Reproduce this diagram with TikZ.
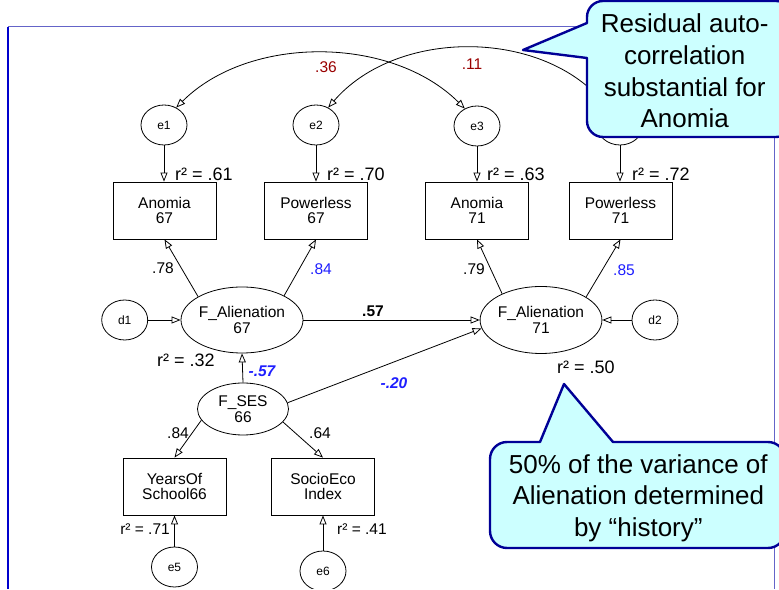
\documentclass[tikz,border=0pt]{standalone}
\usepackage{fontspec}
\setmainfont{Liberation Sans}
\usetikzlibrary{arrows.meta,shapes.geometric}
\definecolor{coefblue}{RGB}{30,30,255}
\definecolor{covred}{RGB}{153,0,0}
\definecolor{framedark}{RGB}{0,0,204}
\definecolor{framelight}{RGB}{100,100,200}
\definecolor{calloutfill}{RGB}{204,255,255}
\definecolor{calloutline}{RGB}{0,0,150}

\begin{document}
\begin{tikzpicture}[x=1pt,y=1pt,
  >={Triangle[open,length=9pt,width=7pt]},
  every node/.style={inner sep=0pt},
  obs/.style={draw, line width=0.8pt, minimum width=103pt, minimum height=57pt,
    align=center, font=\fontsize{15.5}{15.7}\selectfont},
  lat/.style={draw, ellipse, line width=0.8pt, align=center,
    font=\fontsize{15.5}{15.7}\selectfont},
  err/.style={draw, ellipse, line width=0.8pt, minimum width=46pt,
    minimum height=40pt, font=\fontsize{12}{14}\selectfont},
  reg/.style={->, line width=0.8pt},
  cov/.style={<->, line width=0.8pt},
  rsq/.style={font=\fontsize{18}{20}\selectfont},
  rsqs/.style={font=\fontsize{15.5}{18}\selectfont},
  coef/.style={font=\fontsize{15.5}{18}\selectfont},
  covlab/.style={coef, text=covred},
  stdblue/.style={coef, text=coefblue},
  keyblue/.style={font=\fontsize{15.5}{18}\selectfont\bfseries\itshape, text=coefblue},
  callout/.style={fill=calloutfill, draw=calloutline, line width=2.4pt, line join=round},
  callouttext/.style={align=center, font=\fontsize{26}{31.7}\selectfont}
]
\useasboundingbox (0,0) rectangle (779,589);
\clip (0,0) rectangle (779,589);

% frame
\draw[framelight, line width=1pt] (8,562) -- (774,562) -- (774,-5);
\draw[framedark, line width=1.2pt] (8,562) -- (8,-5);

% error terms of the indicators
\node[err] (e1) at (164,464) {e1};
\node[err] (e2) at (316,464) {e2};
\node[err] (e3) at (477,463) {e3};
\node[err] (e4) at (620,464) {e4};

% observed indicators
\node[obs] (A67) at (164.5,378.5) {Anomia\\67};
\node[obs] (P67) at (316,378.5) {Powerless\\67};
\node[obs] (A71) at (477,378.5) {Anomia\\71};
\node[obs] (P71) at (620.5,378.5) {Powerless\\71};

% latent factors and disturbances
\node[err] (d1) at (124.7,269) {d1};
\node[lat, minimum width=122pt, minimum height=66pt] (FA1) at (242,269) {F\_Alienation\\67};
\node[lat, minimum width=121pt, minimum height=67pt] (FA2) at (541,269) {F\_Alienation\\71};
\node[err] (d2) at (655,269) {d2};
\node[lat, minimum width=91pt, minimum height=52pt] (SES) at (243,180) {F\_SES\\66};

% SES indicators
\node[obs] (Y66) at (174.5,102.5) {YearsOf\\School66};
\node[obs] (SEI) at (323,102.5) {SocioEco\\Index};
\node[err] (e5) at (174.5,22) {e5};
\node[err] (e6) at (323,18) {e6};

% residual covariances
\draw[cov] (e1.55) .. controls +(73,73) and +(-73,73) .. (e3.125);
\draw[cov] (e2.55) .. controls +(68,79) and +(-68,79) .. (e4.125);
\node[covlab] (c36) at (326,522) {.36};
\node[covlab] (c11) at (472,525) {.11};

% error paths
\draw[reg] (e1.south) -- (e1.south |- A67.north);
\draw[reg] (e2.south) -- (e2.south |- P67.north);
\draw[reg] (e3.south) -- (e3.south |- A71.north);
\draw[reg] (e4.south) -- (e4.south |- P71.north);
\draw[reg] (e5.north) -- (e5.north |- Y66.south);
\draw[reg] (e6.north) -- (e6.north |- SEI.south);

% loadings
\draw[reg] (FA1.152) -- (A67.south);
\draw[reg] (FA1.30) -- (P67.south);
\draw[reg] (FA2.146) -- (A71.south);
\draw[reg] (FA2.27) -- (P71.south);
\draw[reg] (SES.195) -- (Y66.north);
\draw[reg] (SES.342) -- (SEI.north);

% structural paths
\draw[reg] (d1.east) -- (FA1.west);
\draw[reg] (d2.west) -- (FA2.east);
\draw[reg] (FA1.east) -- (FA2.west);
\draw[reg] (SES.north) -- (FA1.south);
\draw[reg] (SES.8) -- (FA2.188);

% coefficients
\node[coef] (l78) at (163,321) {.78};
\node[stdblue] (l84) at (321,320) {.84};
\node[coef] (l79) at (474,320) {.79};
\node[stdblue] (l85) at (624,319) {.85};
\node[coef, font=\fontsize{15.5}{18}\selectfont\bfseries] (b57) at (373,278) {.57};
\node[keyblue] (g57) at (262,218) {-.57};
\node[keyblue] (g20) at (394,206) {-.20};
\node[coef] (l84s) at (178,156) {.84};
\node[coef] (l64) at (320,156) {.64};

% squared multiple correlations
\node[rsq, anchor=base west] (r61) at (175,408) {r² = .61};
\node[rsq, anchor=base west] (r70) at (327,408) {r² = .70};
\node[rsq, anchor=base west] (r63) at (487,408) {r² = .63};
\node[rsq, anchor=base west] (r72) at (632,408) {r² = .72};
\node[rsq, anchor=base west] (r32) at (157,222) {r² = .32};
\node[rsq, anchor=base west] (r50) at (557,215.5) {r² = .50};
\node[rsqs, anchor=base east] (r71) at (170,54) {r² = .71};
\node[rsqs, anchor=base west] (r41) at (337,54) {r² = .41};

% callouts
\draw[callout] (587,531) -- (523,539) -- (587,566) -- (587,572)
  arc[start angle=180, end angle=90, radius=16] -- (776,588)
  arc[start angle=90, end angle=0, radius=16] -- (792,468)
  arc[start angle=0, end angle=-90, radius=16] -- (603,452)
  arc[start angle=270, end angle=180, radius=16] -- cycle;
\node[callouttext] (note1) at (684.7,518) {Residual auto-\\correlation\\substantial for\\Anomia};

\draw[callout] (540,147) -- (564,205) -- (613,147) -- (768,147)
  arc[start angle=90, end angle=0, radius=17] -- (785,58)
  arc[start angle=0, end angle=-90, radius=17] -- (507,41)
  arc[start angle=270, end angle=180, radius=17] -- (490,130)
  arc[start angle=180, end angle=90, radius=17] -- cycle;
\node[callouttext] (note2) at (638.3,91) {50\% of the variance of\\Alienation determined\\by “history”};
\end{tikzpicture}
\end{document}
